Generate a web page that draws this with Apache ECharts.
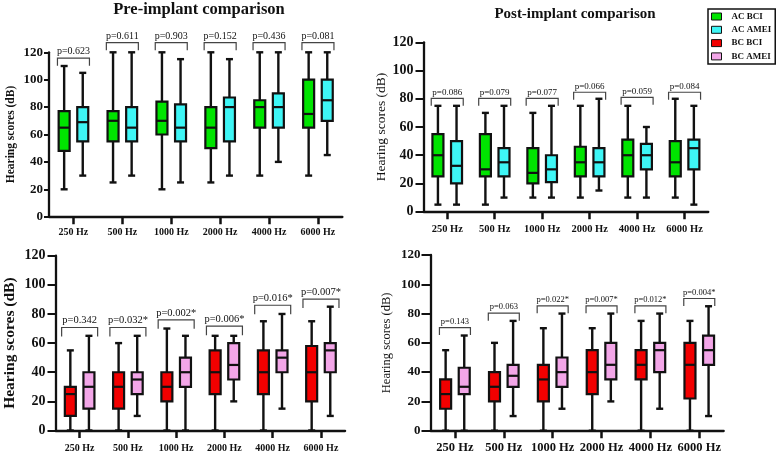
<!DOCTYPE html>
<html>
<head>
<meta charset="utf-8">
<script src="https://cdn.jsdelivr.net/npm/echarts@6/dist/echarts.min.js"></script>
<style>
html,body{margin:0;padding:0;background:#fff;}
#chart{width:776px;height:458px;}
</style>
</head>
<body>
<div id="chart"></div>
<script>
// ---------- data ----------
const categories = ['250 Hz', '500 Hz', '1000 Hz', '2000 Hz', '4000 Hz', '6000 Hz'];
const seriesNames = ['AC BCI', 'AC AMEI', 'BC BCI', 'BC AMEI'];
const yAxisName = 'Hearing scores (dB)';
const titles = ['Pre-implant comparison', 'Post-implant comparison'];

// each entry: [min, Q1, median, Q3, max]
const preAcBci  = [[20,48,65,77,110],[25,55,70,77,120],[20,60,70,84,120],[25,50,65,80,120],[30,65,80,85,120],[30,65,75,100,120]];
const preAcAmei = [[30,55,69,80,105],[30,55,65,80,120],[25,55,65,82,115],[30,55,80,87,115],[40,65,80,90,120],[45,70,85,100,120]];
const postAcBci  = [[5,25,40,55,75],[5,25,30,55,70],[10,20,27.5,45,70],[10,25,35,46,75],[10,25,40,51,75],[10,25,35,50,80]];
const postAcAmei = [[5,20,32.5,50,75],[10,25,35,45,75],[10,21,30,40,75],[15,25,35,45,80],[10,30,40,48,60],[5,30,45,51,75]];
const preBcBci  = [[0,10,25,30,55],[0,15,30,40,60],[0,20,30,40,70],[0,25,40,55,65],[0,25,40,55,75],[0,20,40,58,75]];
const preBcAmei = [[0,15,30,40,65],[10,25,35,40,65],[0,30,40,50,65],[20,35,45,60,65],[15,40,50,55,80],[10,40,55,60,85]];
const postBcBci  = [[0,15,25,35,55],[0,20,30,40,60],[0,20,35,45,70],[0,25,40,55,70],[0,35,45,55,75],[0,22,45,60,75]];
const postBcAmei = [[0,25,30,43,65],[10,30,37.5,45,75],[15,30,40,50,80],[20,35,45,60,80],[15,40,55,60,80],[10,45,55,65,85]];

const preAcP  = ['p=0.623','p=0.611','p=0.903','p=0.152','p=0.436','p=0.081'];
const preAcPy = [115.7,127,127,127,127,127];
const postAcP  = ['p=0.086','p=0.079','p=0.077','p=0.066','p=0.059','p=0.084'];
const postAcPy = [80.3,80.3,80.3,84.6,81,84.6];
const preBcP  = ['p=0.342','p=0.032*','p=0.002*','p=0.006*','p=0.016*','p=0.007*'];
const preBcPy = [70.7,70.7,76,71.6,86,90.2];
const postBcP  = ['p=0.143','p=0.063','p=0.022*','p=0.007*','p=0.012*','p=0.004*'];
const postBcPy = [70.4,80.3,85.3,85.3,85.3,90.3];

// ---------- style ----------
const FONT = "'Liberation Serif', 'DejaVu Serif', serif";
const INK = '#111';
const colors = {'AC BCI': '#00e400', 'AC AMEI': '#3ef6f6', 'BC BCI': '#f20000', 'BC AMEI': '#f3a6e8'};

const panels = [
  {grid:{left:49, top:52.3, width:293.4, height:164.4}, yLabel:13, yTick:5, yMargin:6, yName:11.5, yNameGap:32, yNameBold:true,
   xLabel:10, xMargin:11, pFont:10, pHalf:16, pTick:7.5},
  {grid:{left:423.5, top:42.3, width:284.8, height:169.4}, yLabel:14, yTick:8, yMargin:10, yName:13.5, yNameGap:34, yNameBold:false,
   xLabel:10.5, xMargin:12, pFont:9, pHalf:16, pTick:7.5},
  {grid:{left:55.5, top:255.7, width:289.6, height:174.8}, yLabel:14, yTick:8, yMargin:10, yName:15.5, yNameGap:38, yNameBold:true,
   xLabel:10, xMargin:13, pFont:10.5, pHalf:18, pTick:9},
  {grid:{left:430.5, top:255, width:293.2, height:175.7}, yLabel:13, yTick:9, yMargin:10, yName:12.5, yNameGap:37, yNameBold:false,
   xLabel:12.5, xMargin:11, pFont:8.5, pHalf:15.5, pTick:7.5}
];

function boxSeries(name, data, gi, side) {
  const color = colors[name];
  return {
    type: 'custom', name: name, xAxisIndex: gi, yAxisIndex: gi, clip: false, z: 3,
    itemStyle: {color: color, borderColor: INK, borderWidth: 1},
    encode: {x: 0, y: [1, 2, 3, 4, 5]},
    data: data.map((d, i) => [i].concat(d)),
    renderItem: function (params, api) {
      const i = api.value(0);
      const x = api.coord([i, 0])[0] + side * 9.3;
      const y = v => api.coord([i, v])[1];
      const yMin = y(api.value(1)), yQ1 = y(api.value(2)), yMed = y(api.value(3)),
            yQ3 = y(api.value(4)), yMax = y(api.value(5));
      const bw = 11, cw = 7;
      const ls = {stroke: INK, lineWidth: 2.4};
      return {type: 'group', children: [
        {type: 'line', shape: {x1: x, y1: yMax, x2: x, y2: yQ3}, style: ls},
        {type: 'line', shape: {x1: x, y1: yQ1, x2: x, y2: yMin}, style: ls},
        {type: 'line', shape: {x1: x - cw / 2, y1: yMax, x2: x + cw / 2, y2: yMax}, style: ls},
        {type: 'line', shape: {x1: x - cw / 2, y1: yMin, x2: x + cw / 2, y2: yMin}, style: ls},
        {type: 'rect', shape: {x: x - bw / 2, y: yQ3, width: bw, height: yQ1 - yQ3},
         style: {fill: color, stroke: INK, lineWidth: 2.2}},
        {type: 'line', shape: {x1: x - bw / 2, y1: yMed, x2: x + bw / 2, y2: yMed}, style: {stroke: INK, lineWidth: 2.2}}
      ]};
    }
  };
}

function pSeries(labels, heights, gi) {
  const p = panels[gi];
  return {
    type: 'custom', xAxisIndex: gi, yAxisIndex: gi, clip: false, z: 4, silent: true,
    encode: {x: 0, y: 1},
    data: heights.map((h, i) => [i, h]),
    renderItem: function (params, api) {
      const c = api.coord([api.value(0), api.value(1)]);
      const x = c[0], yy = c[1], hw = p.pHalf;
      const st = {stroke: '#444', lineWidth: 1.2, fill: null};
      return {type: 'group', children: [
        {type: 'polyline', shape: {points: [[x - hw, yy + p.pTick], [x - hw, yy], [x + hw, yy], [x + hw, yy + p.pTick]]}, style: st},
        {type: 'text', x: x, y: yy - 1.5, style: {text: labels[params.dataIndex], align: 'center', verticalAlign: 'bottom',
          font: p.pFont + 'px ' + FONT, fill: INK}}
      ]};
    }
  };
}

const grids = panels.map(p => p.grid);
const xAxes = panels.map((p, gi) => ({
  type: 'category', gridIndex: gi, data: categories,
  axisLine: {show: true, lineStyle: {color: INK, width: 2.3}},
  axisTick: {show: true, alignWithLabel: true, length: 7.5, lineStyle: {color: INK, width: 2.5}},
  axisLabel: {interval: 0, fontFamily: FONT, fontWeight: 'bold', fontSize: p.xLabel, color: INK, margin: p.xMargin},
  splitLine: {show: false}
}));
const yAxes = panels.map((p, gi) => ({
  type: 'value', gridIndex: gi, min: 0, max: 120, interval: 20,
  axisLine: {show: true, lineStyle: {color: INK, width: 2.3}},
  axisTick: {show: true, length: p.yTick, lineStyle: {color: INK, width: 2}},
  axisLabel: {fontFamily: FONT, fontWeight: 'bold', fontSize: p.yLabel, color: INK, margin: p.yMargin},
  splitLine: {show: false},
  name: yAxisName, nameLocation: 'middle', nameGap: p.yNameGap,
  nameTextStyle: {fontFamily: FONT, fontSize: p.yName, fontWeight: p.yNameBold ? 'bold' : 'normal', color: INK}
}));

const series = [
  boxSeries('AC BCI', preAcBci, 0, -1), boxSeries('AC AMEI', preAcAmei, 0, 1), pSeries(preAcP, preAcPy, 0),
  boxSeries('AC BCI', postAcBci, 1, -1), boxSeries('AC AMEI', postAcAmei, 1, 1), pSeries(postAcP, postAcPy, 1),
  boxSeries('BC BCI', preBcBci, 2, -1), boxSeries('BC AMEI', preBcAmei, 2, 1), pSeries(preBcP, preBcPy, 2),
  boxSeries('BC BCI', postBcBci, 3, -1), boxSeries('BC AMEI', postBcAmei, 3, 1), pSeries(postBcP, postBcPy, 3)
];

const chart = echarts.init(document.getElementById('chart'), null, {renderer: 'canvas'});
chart.setOption({
  animation: false,
  backgroundColor: '#fff',
  title: [
    {text: titles[0], left: 199, top: 1, textAlign: 'center', padding: 0,
     textStyle: {fontFamily: FONT, fontWeight: 'bold', fontSize: 16.5, color: INK}},
    {text: titles[1], left: 575, top: 7, textAlign: 'center', padding: 0,
     textStyle: {fontFamily: FONT, fontWeight: 'bold', fontSize: 15, color: INK}}
  ],
  legend: {
    orient: 'vertical', left: 708, top: 9, padding: [3, 4, 3, 3],
    itemWidth: 10, itemHeight: 7, itemGap: 4.3, icon: 'rect',
    borderColor: INK, borderWidth: 1.5, borderRadius: 0,
    textStyle: {fontFamily: FONT, fontWeight: 'bold', fontSize: 9, lineHeight: 9, color: INK, padding: [0, 0, 0, 5]},
    data: seriesNames.map(n => ({name: n, itemStyle: {color: colors[n], borderColor: INK, borderWidth: 1}})),
    selectedMode: false
  },
  grid: grids,
  xAxis: xAxes,
  yAxis: yAxes,
  series: series
});
</script>
</body>
</html>
